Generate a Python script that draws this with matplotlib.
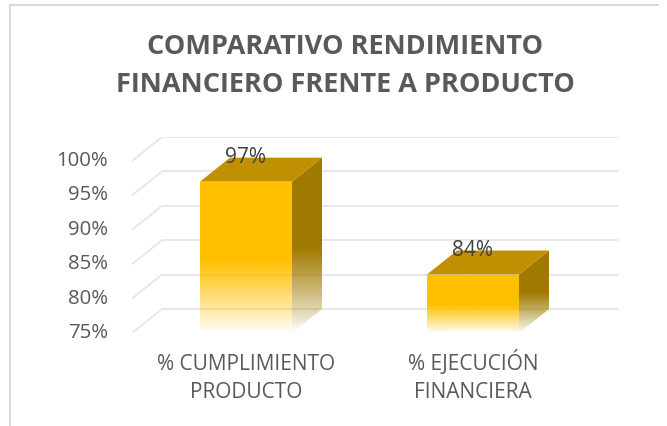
import numpy as np
import matplotlib
matplotlib.use("Agg")
import matplotlib.pyplot as plt
from matplotlib.patches import Polygon
from matplotlib.lines import Line2D
from matplotlib.colors import to_rgb

# ---- data ----
categories = ["% CUMPLIMIENTO\nPRODUCTO", "% EJECUCIÓN\nFINANCIERA"]
values = [97.0, 83.5]
value_labels = ["97%", "84%"]
ticks = [75, 80, 85, 90, 95, 100]
tick_labels = ["75%", "80%", "85%", "90%", "95%", "100%"]
title = "COMPARATIVO RENDIMIENTO\nFINANCIERO FRENTE A PRODUCTO"

# ---- style ----
W, H = 667, 426
DPI = 100
FRONT = "#FFC000"
TOP = "#C09000"
SIDE = "#A07A00"
TXT = "#595959"
GRID = "#E6E6E6"
FONT = "Open Sans"

fig = plt.figure(figsize=(W / DPI, H / DPI), dpi=DPI)
fig.patch.set_facecolor("white")

# chart border (partial, as in reference)
fig.add_artist(Line2D([10 / W, 10 / W], [0, 1 - 5 / H], color="#D9D9D9", lw=1.5))
fig.add_artist(Line2D([10 / W, 658 / W], [1 - 5 / H, 1 - 5 / H], color="#D9D9D9", lw=1.5))

# axes in pixel layout
ax_l, ax_r = 132, 618
ax_t, ax_b = 137, 333
ax = fig.add_axes([ax_l / W, 1 - ax_b / H, (ax_r - ax_l) / W, (ax_b - ax_t) / H])
ax.set_axis_off()

px_per_cat = 227.0
cat0_px = 246.0
xmin = (ax_l - cat0_px) / px_per_cat
xmax = (ax_r - cat0_px) / px_per_cat
px_per_val = 6.88
ymin = 75.0
ymax = ymin + (ax_b - ax_t) / px_per_val
ax.set_xlim(xmin, xmax)
ax.set_ylim(ymin, ymax)

dx = 30 / px_per_cat
dy = 24 / px_per_val
bw = 92 / px_per_cat

# gridlines: left wall diagonals + back wall
for t in ticks:
    ax.plot([xmin, xmin + dx], [t, t + dy], color=GRID, lw=1.3, zorder=1, solid_capstyle="butt")
    ax.plot([xmin + dx, xmax], [t + dy, t + dy], color=GRID, lw=1.3, zorder=1, solid_capstyle="butt")


def grad_face(verts, color, yfade, zorder, power=0.9):
    poly = Polygon(verts, closed=True, facecolor="none", edgecolor="none")
    ax.add_patch(poly)
    xs = [v[0] for v in verts]
    ys = [v[1] for v in verts]
    y0, y1 = min(ys), max(ys)
    n = 200
    yy = np.linspace(y1, y0, n)
    a = np.clip((yy - ymin) / (yfade - ymin), 0, 1) ** power
    rgb = to_rgb(color)
    img = np.zeros((n, 2, 4))
    img[..., 0] = rgb[0]
    img[..., 1] = rgb[1]
    img[..., 2] = rgb[2]
    img[..., 3] = a[:, None]
    im = ax.imshow(img, extent=(min(xs), max(xs), y0, y1), aspect="auto",
                   origin="upper", interpolation="bilinear", zorder=zorder)
    im.set_clip_path(poly)


for i, v in enumerate(values):
    xl = i - bw / 2
    xr = i + bw / 2
    fade = ymin + (v - ymin) * 0.48
    # side
    grad_face([(xr, ymin), (xr, v), (xr + dx, v + dy), (xr + dx, ymin + dy)], SIDE,
              fade + dy * 0.5, 3)
    # front
    grad_face([(xl, ymin), (xr, ymin), (xr, v), (xl, v)], FRONT, fade, 3)
    # top
    ax.add_patch(Polygon([(xl, v), (xr, v), (xr + dx, v + dy), (xl + dx, v + dy)],
                         closed=True, facecolor=TOP, edgecolor="none", zorder=4))
    ax.text(i, v + dy, value_labels[i], ha="center", va="center",
            fontsize=15, color="#404040", family=FONT, zorder=6)

# tick labels
for t, lab in zip(ticks, tick_labels):
    ax.text(xmin - 24 / px_per_cat, t, lab, ha="right", va="center",
            fontsize=14.7, color=TXT, family=FONT, clip_on=False)

# category labels (one text per line, baseline placed)
cat_baselines_px = [370.5, 397.5]
for i, c in enumerate(categories):
    for line, by in zip(c.split("\n"), cat_baselines_px):
        ax.text(i, ymin - (by - ax_b) / px_per_val, line, ha="center", va="baseline",
                fontsize=15, color=TXT, family=FONT, clip_on=False)

title_baselines_px = [54.5, 91.5]
for line, by in zip(title.split("\n"), title_baselines_px):
    fig.text(345 / W, 1 - by / H, line, ha="center", va="baseline", fontsize=19.5,
             fontweight="bold", color=TXT, family=FONT)

fig.savefig("out.png", dpi=DPI)
